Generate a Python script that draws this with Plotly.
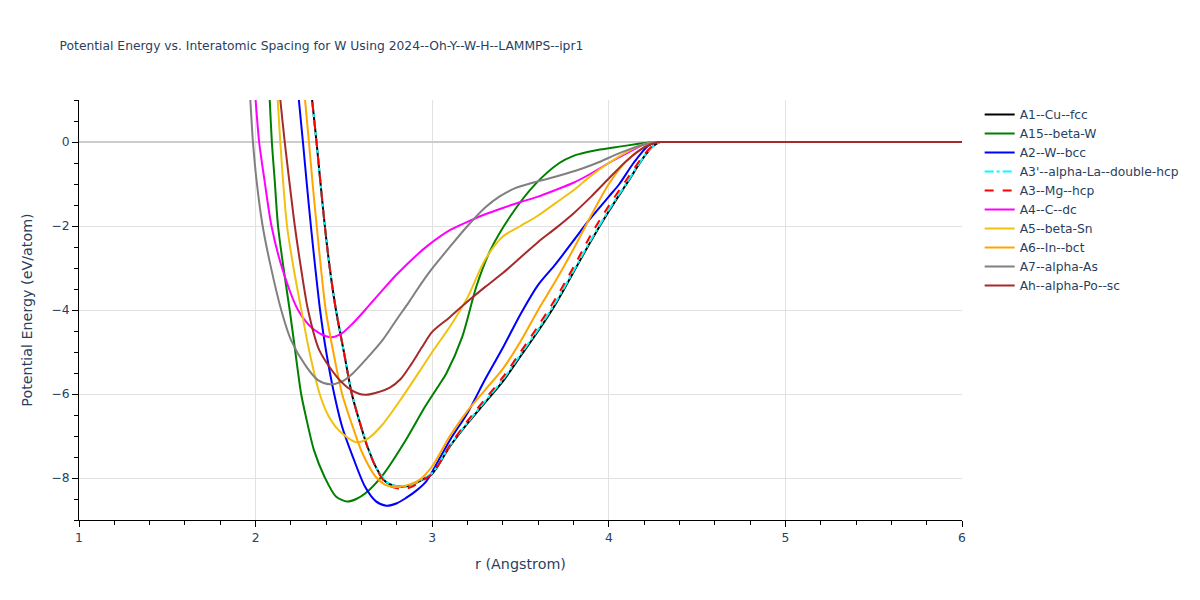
import plotly.graph_objects as go

# ---------------- data ----------------
names = ["A1--Cu--fcc", "A15--beta-W", "A2--W--bcc", "A3'--alpha-La--double-hcp",
         "A3--Mg--hcp", "A4--C--dc", "A5--beta-Sn", "A6--In--bct", "A7--alpha-As",
         "Ah--alpha-Po--sc"]

r_A1 = [2.30, 2.32, 2.345, 2.368, 2.392, 2.42, 2.455, 2.50, 2.545, 2.586, 2.633, 2.69, 2.737,
        2.78, 2.83, 2.88, 2.94, 3.0, 3.1, 3.2, 3.3, 3.4, 3.5, 3.6, 3.7, 3.8, 3.9, 4.0, 4.1,
        4.2, 4.25, 4.29, 4.31, 6.0]
e_A1 = [1.8, 1.0, 0.0, -1.0, -2.0, -3.0, -4.0, -5.0, -6.0, -6.62, -7.25, -7.81, -8.09,
        -8.18, -8.21, -8.17, -8.05, -7.9, -7.25, -6.7, -6.2, -5.7, -5.1, -4.5, -3.85, -3.1,
        -2.35, -1.65, -1.0, -0.35, -0.1, 0.0, 0.0, 0.0]

r_A15 = [2.07, 2.08, 2.092, 2.108, 2.127, 2.158, 2.193, 2.225, 2.258, 2.285, 2.33, 2.39, 2.455,
         2.52, 2.57, 2.62, 2.72, 2.85, 2.96, 3.04, 3.08, 3.17, 3.25, 3.33, 3.45, 3.58, 3.72,
         3.80, 3.84, 3.95, 4.06, 4.16, 4.25, 4.27, 6.0]
e_A15 = [1.8, 1.0, 0.0, -0.9, -2.0, -3.0, -4.0, -5.0, -6.0, -6.54, -7.33, -7.97, -8.44,
         -8.56, -8.5, -8.37, -7.93, -7.1, -6.3, -5.78, -5.51, -4.64, -3.44, -2.57, -1.72,
         -1.02, -0.5, -0.33, -0.28, -0.18, -0.11, -0.05, 0.0, 0.0, 0.0]

r_A2 = [2.23, 2.245, 2.268, 2.29, 2.313, 2.338, 2.365, 2.40, 2.445, 2.49, 2.55, 2.62, 2.68,
        2.74, 2.80, 2.85, 2.91, 2.964, 3.0, 3.1, 3.2, 3.3, 3.4, 3.5, 3.6, 3.7, 3.8, 3.89,
        4.0, 4.06, 4.14, 4.22, 4.27, 4.29, 6.0]
e_A2 = [1.7, 1.0, 0.0, -1.0, -2.0, -3.0, -4.0, -5.0, -6.0, -6.78, -7.49, -8.21, -8.55,
        -8.66, -8.6, -8.48, -8.3, -8.09, -7.85, -7.1, -6.45, -5.65, -4.9, -4.1, -3.4, -2.9,
        -2.35, -1.85, -1.3, -1.0, -0.5, -0.1, 0.0, 0.0, 0.0]

r_A3p = [2.30, 2.32, 2.345, 2.368, 2.392, 2.42, 2.455, 2.50, 2.545, 2.586, 2.633, 2.69, 2.737,
         2.78, 2.83, 2.88, 2.94, 3.0, 3.1, 3.2, 3.3, 3.4, 3.5, 3.6, 3.7, 3.8, 3.9, 4.0, 4.1,
         4.2, 4.25, 4.29, 4.31, 6.0]
e_A3p = [1.8, 1.0, 0.0, -1.0, -2.0, -3.0, -4.0, -5.0, -5.98, -6.6, -7.24, -7.8, -8.08,
         -8.18, -8.21, -8.17, -8.04, -7.88, -7.23, -6.68, -6.17, -5.66, -5.06, -4.46, -3.81,
         -3.07, -2.32, -1.62, -0.98, -0.34, -0.1, 0.0, 0.0, 0.0]

r_A3 = [2.30, 2.32, 2.345, 2.368, 2.392, 2.42, 2.455, 2.50, 2.545, 2.586, 2.633, 2.69, 2.737,
        2.78, 2.84, 2.89, 2.94, 3.0, 3.1, 3.2, 3.3, 3.4, 3.5, 3.6, 3.7, 3.8, 3.9, 4.0, 4.1,
        4.2, 4.25, 4.29, 4.31, 6.0]
e_A3 = [1.8, 1.0, 0.0, -1.0, -2.0, -3.0, -4.0, -5.0, -6.0, -6.62, -7.26, -7.83, -8.12,
        -8.22, -8.26, -8.2, -8.07, -7.9, -7.22, -6.64, -6.12, -5.6, -5.0, -4.38, -3.72,
        -2.98, -2.2, -1.52, -0.9, -0.3, -0.08, 0.0, 0.0, 0.0]

r_A4 = [1.99, 2.0, 2.02, 2.05, 2.09, 2.15, 2.24, 2.30, 2.36, 2.43, 2.49, 2.55, 2.62, 2.72,
        2.80, 2.91, 2.98, 3.1, 3.2, 3.3, 3.4, 3.5, 3.6, 3.7, 3.8, 3.9, 4.0, 4.1, 4.2, 4.27,
        4.29, 6.0]
e_A4 = [1.5, 1.0, 0.0, -0.9, -2.0, -3.0, -4.0, -4.35, -4.55, -4.65, -4.55, -4.32, -4.0,
        -3.52, -3.15, -2.7, -2.45, -2.1, -1.9, -1.72, -1.57, -1.43, -1.3, -1.14, -0.97,
        -0.75, -0.5, -0.27, -0.06, 0.0, 0.0, 0.0]

r_A5 = [2.115, 2.125, 2.14, 2.155, 2.178, 2.215, 2.259, 2.305, 2.363, 2.41, 2.47, 2.57, 2.64,
        2.72, 2.83, 2.93, 3.0, 3.1, 3.2, 3.3, 3.4, 3.5, 3.6, 3.7, 3.8, 3.9, 4.0, 4.1, 4.2,
        4.27, 4.29, 6.0]
e_A5 = [1.7, 1.0, 0.0, -0.9, -2.0, -3.0, -4.0, -5.0, -6.0, -6.5, -6.86, -7.15, -7.05,
        -6.72, -6.08, -5.45, -5.0, -4.4, -3.7, -2.8, -2.25, -2.0, -1.75, -1.45, -1.15, -0.8,
        -0.5, -0.24, -0.05, 0.0, 0.0, 0.0]

r_A6 = [2.265, 2.28, 2.302, 2.323, 2.346, 2.37, 2.397, 2.44, 2.49, 2.55, 2.605, 2.68, 2.73,
        2.79, 2.86, 2.926, 3.0, 3.1, 3.2, 3.3, 3.4, 3.5, 3.6, 3.7, 3.8, 3.9, 4.0, 4.1, 4.2,
        4.26, 4.28, 6.0]
e_A6 = [1.7, 1.0, 0.0, -1.0, -2.0, -3.0, -4.0, -5.0, -6.0, -6.78, -7.41, -7.97, -8.15,
        -8.22, -8.17, -8.05, -7.72, -7.0, -6.4, -5.9, -5.4, -4.75, -4.0, -3.3, -2.55, -1.75,
        -1.0, -0.45, -0.12, 0.0, 0.0, 0.0]

r_A7 = [1.96, 1.97, 1.985, 2.005, 2.04, 2.085, 2.145, 2.20, 2.287, 2.353, 2.42, 2.49, 2.55,
        2.63, 2.72, 2.80, 2.87, 2.93, 2.98, 3.115, 3.2, 3.3, 3.38, 3.47, 3.57, 3.66, 3.76,
        3.85, 3.95, 4.04, 4.12, 4.2, 4.27, 4.29, 6.0]
e_A7 = [1.6, 1.0, 0.0, -0.9, -2.0, -2.95, -4.0, -4.71, -5.35, -5.67, -5.77, -5.7, -5.51,
        -5.15, -4.71, -4.22, -3.8, -3.42, -3.12, -2.42, -2.0, -1.56, -1.3, -1.1, -0.97,
        -0.87, -0.75, -0.63, -0.47, -0.3, -0.17, -0.06, 0.0, 0.0, 0.0]

r_Ah = [2.125, 2.14, 2.165, 2.19, 2.222, 2.257, 2.297, 2.36, 2.46, 2.54, 2.62, 2.70, 2.76,
        2.82, 2.88, 2.94, 3.0, 3.1, 3.2, 3.3, 3.4, 3.5, 3.6, 3.7, 3.8, 3.9, 4.0, 4.1, 4.2,
        4.28, 4.30, 6.0]
e_Ah = [1.6, 1.0, 0.0, -0.9, -2.0, -3.0, -4.0, -4.95, -5.59, -5.9, -6.02, -5.95, -5.85,
        -5.65, -5.3, -4.9, -4.52, -4.17, -3.8, -3.45, -3.12, -2.75, -2.38, -2.05, -1.7,
        -1.3, -0.87, -0.45, -0.13, 0.0, 0.0, 0.0]

x_series = [r_A1, r_A15, r_A2, r_A3p, r_A3, r_A4, r_A5, r_A6, r_A7, r_Ah]
y_series = [e_A1, e_A15, e_A2, e_A3p, e_A3, e_A4, e_A5, e_A6, e_A7, e_Ah]

colors = ["black", "green", "blue", "cyan", "red", "magenta", "#f0c20f", "orange", "gray", "brown"]
dashes = ["solid", "solid", "solid", "dashdot", "dash", "solid", "solid", "solid", "solid", "solid"]

title_text = "Potential Energy vs. Interatomic Spacing for W Using 2024--Oh-Y--W-H--LAMMPS--ipr1"
x_title = "r (Angstrom)"
y_title = "Potential Energy (eV/atom)"

# ---------------- figure ----------------
fig = go.Figure()
for name, xs, ys, c, d in zip(names, x_series, y_series, colors, dashes):
    fig.add_trace(go.Scatter(x=xs, y=ys, mode="lines", name=name,
                             line=dict(color=c, width=2, dash=d, shape="spline",
                                       smoothing=0.8)))

font_color = "#2a3f5f"
fig.update_layout(
    width=1200, height=600,
    paper_bgcolor="white", plot_bgcolor="white",
    margin=dict(l=71, r=246, t=92, b=88, autoexpand=False),
    title=dict(text=title_text, x=0.043, xanchor="left", y=0.937, yanchor="middle",
               font=dict(size=12.3, color=font_color)),
    font=dict(family="Verdana, DejaVu Sans, sans-serif", color=font_color, size=12.3),
    legend=dict(x=1.02, y=1.0, xanchor="left", yanchor="top",
                font=dict(size=12.3, color=font_color), bgcolor="rgba(0,0,0,0)"),
    showlegend=True,
)
fig.update_xaxes(
    title=dict(text=x_title, font=dict(size=14.3)),
    range=[1, 6], dtick=1, tick0=1,
    showline=True, linecolor="black", linewidth=1,
    ticks="outside", ticklen=6, tickcolor="black",
    minor=dict(dtick=0.2, ticks="outside", ticklen=4, tickcolor="black", showgrid=False),
    showgrid=True, gridcolor="#e2e2e2", gridwidth=1, zeroline=False,
)
fig.update_yaxes(
    title=dict(text=y_title, font=dict(size=14.3)),
    range=[-9, 1], dtick=2, tick0=0,
    showline=True, linecolor="black", linewidth=1,
    ticks="outside", ticklen=6, tickcolor="black",
    minor=dict(dtick=0.5, ticks="outside", ticklen=4, tickcolor="black", showgrid=False),
    showgrid=True, gridcolor="#e2e2e2", gridwidth=1,
    zeroline=True, zerolinecolor="#cccccc", zerolinewidth=2,
)

fig.write_html("out.html")
